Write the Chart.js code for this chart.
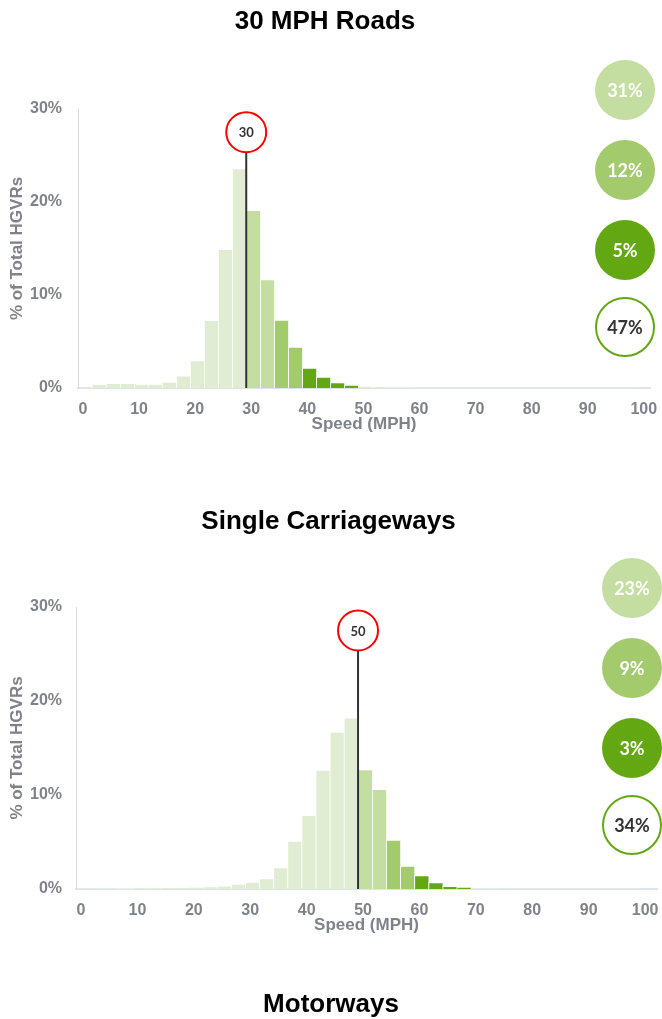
<!DOCTYPE html>
<html>
<head>
<meta charset="utf-8">
<script src="https://cdn.jsdelivr.net/npm/chart.js@4"></script>
<style>
  body { margin: 0; background: #fff; width: 662px; height: 1019px; overflow: hidden; position: relative; }
  .box { position: absolute; left: 0; width: 662px; height: 500px; }
  #motorways { position: absolute; left: 0; top: 988px; width: 662px; text-align: center;
    font: bold 26px "Liberation Sans", Arial, sans-serif; line-height: 31px; color: #000; }
</style>
</head>
<body>
<div class="box" style="top:0"><canvas id="roads30"></canvas></div>
<div class="box" style="top:498px"><canvas id="single"></canvas></div>
<div id="motorways">Motorways</div>
<script>
// speed bins (start of each 2.5 mph bin)
const speedBins = [0, 2.5, 5, 7.5, 10, 12.5, 15, 17.5, 20, 22.5, 25, 27.5, 30, 32.5, 35, 37.5,
  40, 42.5, 45, 47.5, 50, 52.5, 55, 57.5, 60, 62.5, 65, 67.5, 70, 72.5, 75, 77.5,
  80, 82.5, 85, 87.5, 90, 92.5, 95, 97.5];
const binWidth = 2.5;

// % of total HGVRs per bin
const roads30Values = [0.03, 0.4, 0.5, 0.5, 0.43, 0.43, 0.64, 1.3, 2.95, 7.28, 14.9, 23.6, 19.1, 11.65, 7.3, 4.4,
  2.15, 1.18, 0.57, 0.32, 0.18, 0.1, 0.05, 0.04, 0.03, 0.03, 0.02, 0.02, 0.02, 0.02, 0.01, 0.01,
  0.01, 0.01, 0.01, 0.01, 0.01, 0.01, 0.01, 0.01];
const singleValues = [0.02, 0.05, 0.05, 0.06, 0.07, 0.08, 0.1, 0.13, 0.2, 0.25, 0.35, 0.53, 0.74, 1.12, 2.27, 5.1,
  7.83, 12.65, 16.7, 18.2, 12.7, 10.6, 5.2, 2.44, 1.42, 0.67, 0.28, 0.18, 0.07, 0.05, 0.03, 0.02,
  0.02, 0.01, 0.01, 0.01, 0.01, 0.01, 0.01, 0.01];

// share over the limit: +0-5, +5-10, +10 and more, total
const roads30Bands = ['31%', '12%', '5%', '47%'];
const singleBands = ['23%', '9%', '3%', '34%'];

const xTicks = [0, 10, 20, 30, 40, 50, 60, 70, 80, 90, 100];
const yTickLabels = ['0%', '10%', '20%', '30%'];

const grey = '#7f8289';
const pale = '#e1edd3', light = '#c3dea0', mid = '#a3cb6e', dark = '#63a812';

function barColour(start, limit) {
  if (start < limit) return pale;
  if (start < limit + 5) return light;
  if (start < limit + 10) return mid;
  if (start < limit + 20) return dark;
  return pale;
}

// speed limit sign, line and the band circles
const markers = {
  id: 'markers',
  afterDatasetsDraw(chart, args, opts) {
    const {ctx, chartArea} = chart;
    const x = chart.scales.x.getPixelForValue(opts.limit);
    const y0 = chart.scales.y.getPixelForValue(0);
    const cy = chart.scales.y.getPixelForValue(27.5);
    const r = 20;
    ctx.save();
    ctx.strokeStyle = '#333';
    ctx.lineWidth = 2;
    ctx.beginPath();
    ctx.moveTo(x, cy + r);
    ctx.lineTo(x, y0);
    ctx.stroke();

    ctx.beginPath();
    ctx.arc(x, cy, r, 0, Math.PI * 2);
    ctx.fillStyle = '#fff';
    ctx.fill();
    ctx.strokeStyle = '#ff0000';
    ctx.stroke();
    ctx.fillStyle = '#333';
    ctx.font = 'bold 13px Lato, "Open Sans", sans-serif';
    ctx.textAlign = 'center';
    ctx.textBaseline = 'middle';
    ctx.fillText(String(opts.limit), x, cy + 1);

    const fills = [light, mid, dark, '#fff'];
    const offs = [-19, 61, 141, 218];
    const bx = chartArea.right - 25;
    ctx.font = 'bold 18px Lato, "Open Sans", sans-serif';
    opts.bands.forEach((txt, i) => {
      const by = chartArea.top + offs[i];
      ctx.beginPath();
      ctx.arc(bx, by, 30, 0, Math.PI * 2);
      ctx.fillStyle = fills[i];
      ctx.fill();
      if (i === 3) {
        ctx.strokeStyle = dark;
        ctx.lineWidth = 2;
        ctx.beginPath();
        ctx.arc(bx, by, 29, 0, Math.PI * 2);
        ctx.stroke();
      }
      ctx.fillStyle = i === 3 ? '#333' : '#fff';
      ctx.fillText(txt, bx, by + 1);
    });
    ctx.restore();
  }
};

function makeChart(id, title, values, limit, bands, geo) {
  const points = speedBins.map((s, i) => ({x: s + binWidth / 2, y: values[i]}));
  return new Chart(document.getElementById(id), {
    type: 'bar',
    data: {
      datasets: [{
        data: points,
        backgroundColor: speedBins.map(s => barColour(s, limit)),
        borderColor: 'rgba(255,255,255,0.75)',
        borderWidth: {left: 1, right: 0, top: 1, bottom: 0},
        barPercentage: 1,
        categoryPercentage: 1
      }]
    },
    plugins: [markers],
    options: {
      responsive: true,
      maintainAspectRatio: false,
      animation: false,
      layout: {padding: {left: 0, right: geo.right, top: 0, bottom: geo.bottom}},
      plugins: {
        legend: {display: false},
        tooltip: {enabled: false},
        title: {
          display: true,
          text: title,
          color: '#000',
          font: {family: '"Liberation Sans", Arial, sans-serif', size: 26, weight: 'bold'},
          padding: {top: geo.titleTop, bottom: 109 - geo.titleTop - 31.2}
        },
        markers: {limit: limit, bands: bands}
      },
      scales: {
        x: {
          type: 'linear',
          offset: false,
          min: 0,
          max: geo.max,
          afterBuildTicks: s => { s.ticks = xTicks.map(v => ({value: v})); },
          afterFit: s => { s.height = 47; s.paddingLeft = 0; s.paddingRight = 0; },
          grid: {display: false, drawTicks: false},
          border: {display: true, color: '#dde3e6', width: 2},
          ticks: {
            color: grey,
            padding: 12,
            labelOffset: 5,
            maxRotation: 0,
            font: {family: '"Liberation Sans", Arial, sans-serif', size: 16, weight: 'bold'}
          },
          title: {
            display: true,
            text: 'Speed (MPH)',
            color: grey,
            padding: {top: 0, bottom: 0},
            font: {family: '"Liberation Sans", Arial, sans-serif', size: 17, weight: 'bold'}
          }
        },
        y: {
          min: 0,
          max: 30,
          afterBuildTicks: s => { s.ticks = yTickLabels.map((t, i) => ({value: i * 10})); },
          afterFit: s => { s.width = geo.left; },
          grid: {display: false, drawTicks: false},
          border: {display: true, color: '#d9d9d9', width: 1},
          ticks: {
            color: grey,
            padding: geo.left - 62,
            callback: (v, i) => yTickLabels[i],
            font: {family: '"Liberation Sans", Arial, sans-serif', size: 16, weight: 'bold'}
          },
          title: {
            display: true,
            text: '% of Total HGVRs',
            color: grey,
            padding: {top: 7, bottom: 0},
            font: {family: '"Liberation Sans", Arial, sans-serif', size: 17, weight: 'bold'}
          }
        }
      }
    }
  });
}

makeChart('roads30', '30 MPH Roads', roads30Values, 30, roads30Bands,
  {left: 78, right: 12, bottom: 65, titleTop: 6, max: 102});
makeChart('single', 'Single Carriageways', singleValues, 50, singleBands,
  {left: 76, right: 5, bottom: 62, titleTop: 8, max: 103});
</script>
</body>
</html>
